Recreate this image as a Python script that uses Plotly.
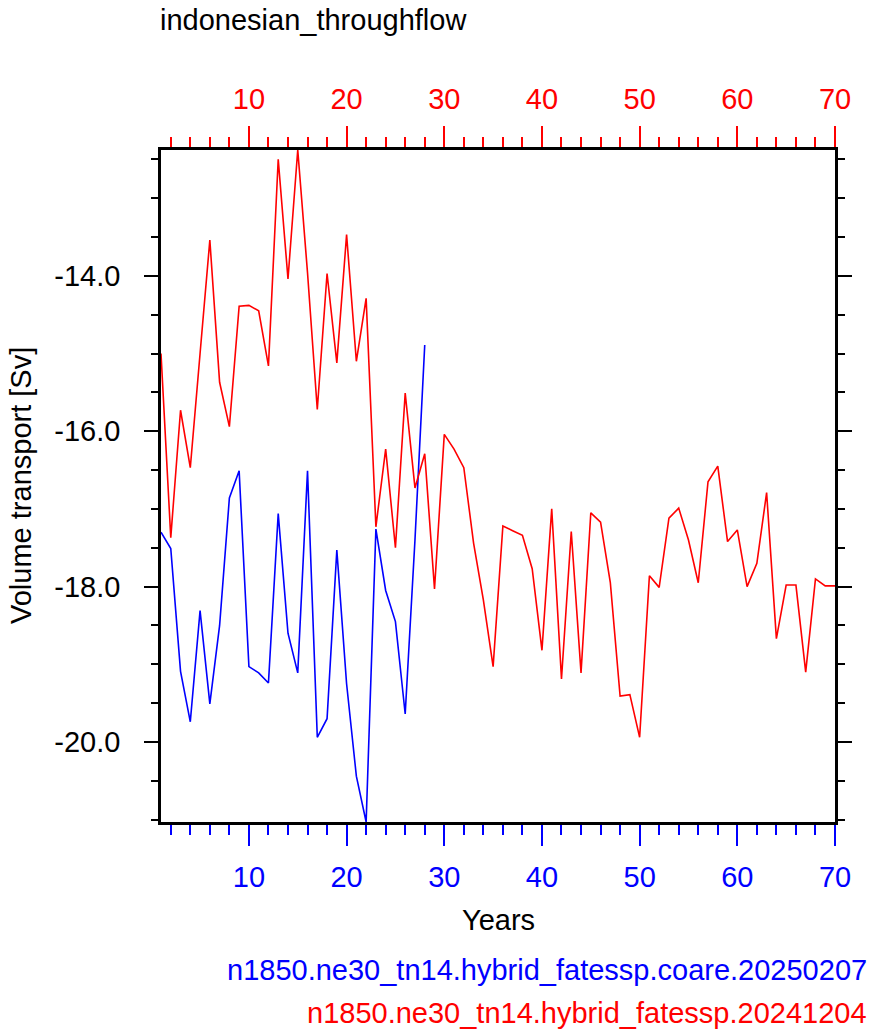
import plotly.graph_objects as go

title_text = "indonesian_throughflow"
x_title = "Years"
y_title = "Volume transport [Sv]"
blue_name = "n1850.ne30_tn14.hybrid_fatessp.coare.20250207"
red_name = "n1850.ne30_tn14.hybrid_fatessp.20241204"

blue_years = list(range(1, 29))
blue_vals = [-17.30, -17.51, -19.09, -19.74, -18.31, -19.51, -18.50, -16.86, -16.51, -19.03,
             -19.11, -19.24, -17.06, -18.60, -19.11, -16.51, -19.94, -19.70, -17.53, -19.25,
             -20.44, -21.03, -17.26, -18.05, -18.45, -19.64, -17.40, -14.89]

red_years = list(range(1, 71))
red_vals = [-15.00, -17.37, -15.73, -16.47, -15.00, -13.54, -15.37, -15.94, -14.39, -14.38,
            -14.45, -15.16, -12.50, -14.04, -12.38, -13.96, -15.72, -13.97, -15.12, -13.47,
            -15.10, -14.29, -17.23, -16.23, -17.50, -15.51, -16.73, -16.29, -18.03, -16.04,
            -16.23, -16.47, -17.44, -18.17, -19.03, -17.22, -17.28, -17.34, -17.77, -18.82,
            -17.00, -19.19, -17.29, -19.11, -17.05, -17.17, -17.95, -19.41, -19.39, -19.94,
            -17.86, -18.01, -17.12, -16.99, -17.40, -17.95, -16.65, -16.45, -17.42, -17.27,
            -18.00, -17.70, -16.79, -18.67, -17.98, -17.98, -19.10, -17.90, -17.99, -17.99]

y_tick_vals = [-20.0, -18.0, -16.0, -14.0]
y_tick_text = ["%.1f" % v for v in y_tick_vals]  # plain hyphen minus, as in the reference

BLUE = "#0000FF"
RED = "#FF0000"
FONT = "Liberation Sans"
FS = 29

xmin = min(blue_years + red_years)
xmax = max(blue_years + red_years)
ymin = min(blue_vals + red_vals)
ymax = max(blue_vals + red_vals)

fig = go.Figure()
fig.add_trace(go.Scatter(x=blue_years, y=blue_vals, mode="lines",
                         line=dict(color=BLUE, width=1.6), xaxis="x", yaxis="y"))
fig.add_trace(go.Scatter(x=red_years, y=red_vals, mode="lines",
                         line=dict(color=RED, width=1.6), xaxis="x2", yaxis="y"))

W, H = 875, 1036
L, R, T, B = 161, 40, 150, 214
pw, ph = W - L - R, H - T - B

def px(xp):
    return (xp - L) / pw

def py(yp):
    return (H - B - yp) / ph

xcommon = dict(range=[xmin, xmax], tick0=0, dtick=10, ticks="outside", ticklen=21,
               tickwidth=2, showline=True, linecolor="black", linewidth=2.5,
               showgrid=False, zeroline=False, ticklabelstandoff=6)

fig.update_layout(
    width=W, height=H,
    margin=dict(l=L, r=R, t=T, b=B),
    paper_bgcolor="white", plot_bgcolor="white",
    showlegend=False,
    font=dict(family=FONT, size=FS, color="black"),
    xaxis=dict(**xcommon, side="bottom", tickcolor=BLUE,
               tickfont=dict(family=FONT, size=FS, color=BLUE),
               minor=dict(dtick=2, tick0=0, ticks="outside", ticklen=10,
                          tickwidth=1.5, tickcolor=BLUE, showgrid=False)),
    xaxis2=dict(**xcommon, side="top", overlaying="x", anchor="y", tickcolor=RED,
                tickfont=dict(family=FONT, size=FS, color=RED),
                minor=dict(dtick=2, tick0=0, ticks="outside", ticklen=10,
                           tickwidth=1.5, tickcolor=RED, showgrid=False)),
    yaxis=dict(range=[ymin, ymax], tickmode="array", tickvals=y_tick_vals,
               ticktext=y_tick_text,
               ticks="outside", ticklen=14, tickwidth=2, tickcolor="black",
               showline=True, linecolor="black", linewidth=2.5, mirror="ticks",
               showgrid=False, zeroline=False, ticklabelstandoff=18,
               tickfont=dict(family=FONT, size=FS, color="black"),
               minor=dict(tickmode="linear", dtick=0.5, tick0=0, ticks="outside", ticklen=7,
                          tickwidth=1.5, tickcolor="black", showgrid=False)),
    annotations=[
        dict(text=title_text, xref="paper", yref="paper", x=px(158), y=py(20),
             xanchor="left", yanchor="middle", showarrow=False,
             font=dict(family=FONT, size=FS, color="black")),
        dict(text=x_title, xref="paper", yref="paper", x=0.5, y=py(920),
             xanchor="center", yanchor="middle", showarrow=False,
             font=dict(family=FONT, size=FS, color="black")),
        dict(text=y_title, xref="paper", yref="paper", x=px(21), y=0.5,
             xanchor="center", yanchor="middle", textangle=-90, showarrow=False,
             font=dict(family=FONT, size=FS, color="black")),
        dict(text=blue_name, xref="paper", yref="paper", x=px(869), y=py(970),
             xanchor="right", yanchor="middle", showarrow=False,
             font=dict(family=FONT, size=FS, color=BLUE)),
        dict(text=red_name, xref="paper", yref="paper", x=px(869), y=py(1013),
             xanchor="right", yanchor="middle", showarrow=False,
             font=dict(family=FONT, size=FS, color=RED)),
    ],
)

fig.write_html("out.html")
